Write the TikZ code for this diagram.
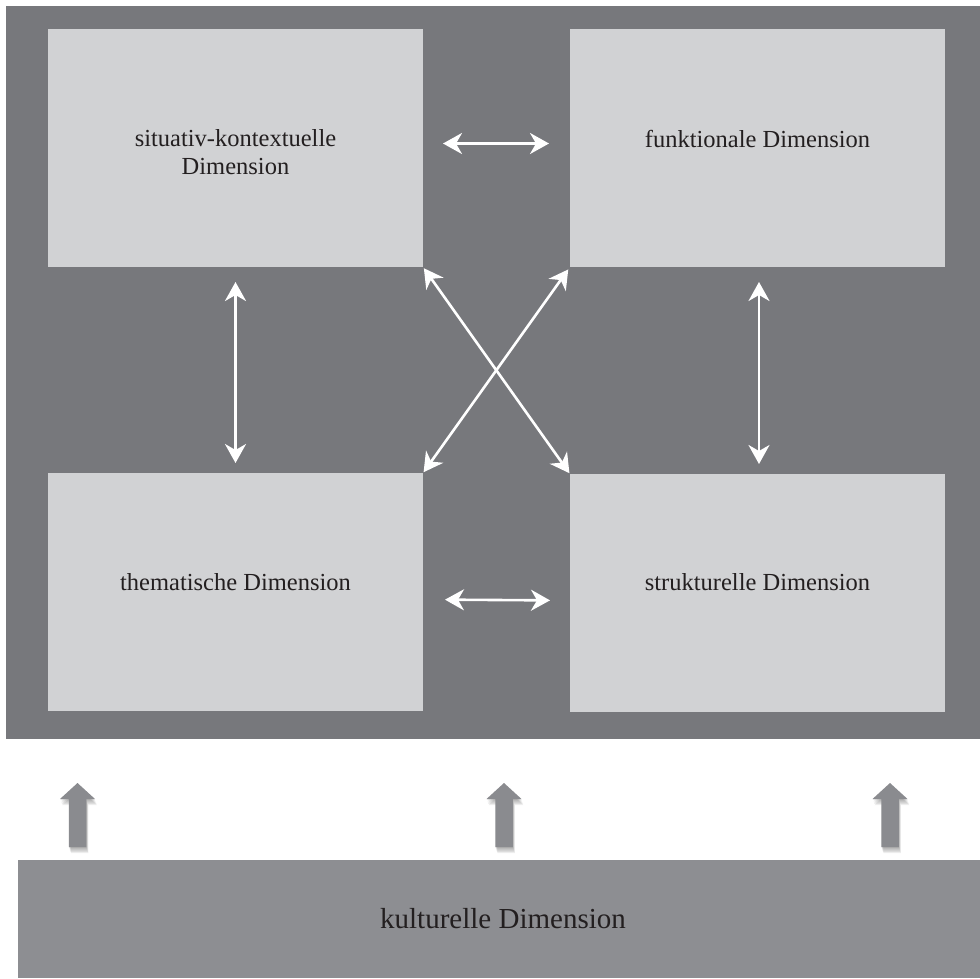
\documentclass[tikz,border=0pt]{standalone}
\usepackage{fontspec}
\setmainfont{Liberation Serif}
\usetikzlibrary{arrows.meta,calc}
\definecolor{panelgray}{HTML}{77787C}
\definecolor{boxgray}{HTML}{D1D2D4}
\definecolor{bargray}{HTML}{8D8E92}
\definecolor{arrowgray}{HTML}{8A8B8F}
\definecolor{textdark}{HTML}{231F20}
\begin{document}
\begin{tikzpicture}[x=1pt,y=-1pt,
  dimbox/.style={fill=boxgray, draw=none, minimum width=375pt, minimum height=238pt,
    anchor=north west, inner sep=0pt, outer sep=0pt},
  dimtext/.style={font=\fontsize{24.5}{28}\selectfont, text=textdark, inner sep=0pt, align=center},
  link/.style={draw=white, line width=2.6pt,
    {Stealth[length=19pt,width=21pt,inset=6pt]}-{Stealth[length=19pt,width=21pt,inset=6pt]}},
  uparrow/.style={fill=arrowgray, draw=none},
  arrowshadow/.style={fill=black, fill opacity=0.07, draw=none},
]
\useasboundingbox (0,0) rectangle (980,978);
\fill[white] (0,0) rectangle (980,978);

% dark panel
\node[fill=panelgray, draw=none, inner sep=0pt, outer sep=0pt, anchor=north west,
      minimum width=974pt, minimum height=733pt] (P) at (6,6) {};

% four dimension boxes
\node[dimbox] (TL) at (48,29) {};
\node[dimbox] (TR) at (570,29) {};
\node[dimbox] (BL) at (48,473) {};
\node[dimbox] (BR) at (570,474) {};

\node[dimtext, anchor=north] (TLt) at ($(TL.north)+(0,100.3)$) {situativ-kontextuelle\\Dimension};
\node[dimtext, anchor=base] (TRt) at ($(TR.north)+(0,118)$) {funktionale Dimension};
\node[dimtext, anchor=base] (BLt) at ($(BL.north)+(0,117)$) {thematische Dimension};
\node[dimtext, anchor=base] (BRt) at ($(BR.north)+(0,116)$) {strukturelle Dimension};

% connectors
\draw[link, shorten <=20pt, shorten >=21pt] ([yshift=4.5pt]TL.east) -- ([yshift=4.5pt]TR.west);
\draw[link, shorten <=22pt, shorten >=20pt] ([yshift=-7.5pt]BL.east) -- ([yshift=-7.5pt]BR.west);
\draw[link, shorten <=15pt, shorten >=10pt] (TL.south) -- (BL.north);
\draw[link, shorten <=15pt, shorten >=10pt] ([xshift=1.5pt]TR.south) -- ([xshift=1.5pt]BR.north);
\draw[link, shorten <=1.5pt, shorten >=1pt] (TL.south east) -- (BR.north west);
\draw[link, shorten <=3pt, shorten >=1pt] (TR.south west) -- (BL.north east);

% cultural dimension bar
\node[fill=bargray, draw=none, inner sep=0pt, outer sep=0pt, anchor=north west,
      minimum width=962pt, minimum height=118pt, text=textdark,
      font=\fontsize{29}{34}\selectfont] (K) at (18,860) {\hspace*{8pt}kulturelle Dimension};

% upward arrows with soft shadow
\foreach \ax in {77.5,504,890}{
  \foreach \s in {1,2,3,4,5}{
    \fill[arrowshadow] (\ax-8.75+0.4*\s,847+1.2*\s) -- (\ax-8.75+0.4*\s,799+1.2*\s)
       -- (\ax-17.5+0.4*\s,799+1.2*\s) -- (\ax+0.4*\s,783+1.2*\s)
       -- (\ax+17.5+0.4*\s,799+1.2*\s) -- (\ax+8.75+0.4*\s,799+1.2*\s)
       -- (\ax+8.75+0.4*\s,847+1.2*\s) -- cycle;
  }
  \fill[uparrow] (\ax-8.75,847) -- (\ax-8.75,799) -- (\ax-17.5,799) -- (\ax,783)
     -- (\ax+17.5,799) -- (\ax+8.75,799) -- (\ax+8.75,847) -- cycle;
}
\end{tikzpicture}
\end{document}
